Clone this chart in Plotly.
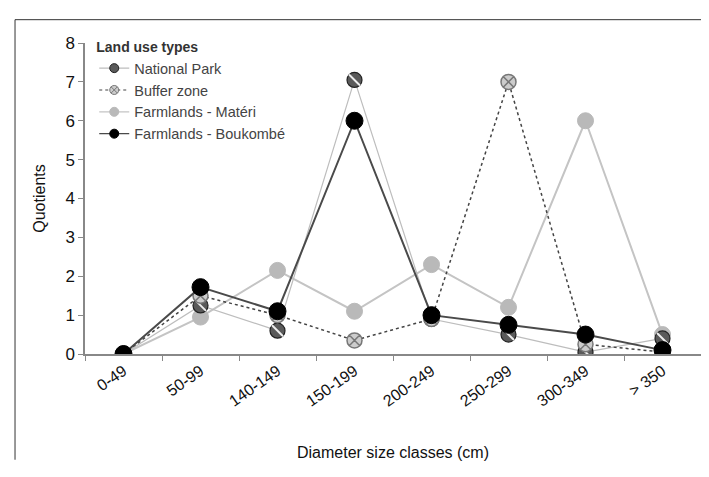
import plotly.graph_objects as go

categories = ["0-49", "50-99", "140-149", "150-199", "200-249", "250-299", "300-349", "> 350"]
national_park = [0, 1.25, 0.6, 7.05, 0.9, 0.5, 0.05, 0.4]
buffer_zone = [0, 1.5, 1.0, 0.35, 0.9, 7.0, 0.25, 0.05]
farm_materi = [0, 0.95, 2.15, 1.1, 2.3, 1.2, 6.0, 0.5]
farm_boukombe = [0, 1.72, 1.1, 6.0, 1.0, 0.75, 0.5, 0.1]
y_ticks = [0, 1, 2, 3, 4, 5, 6, 7, 8]

series = [
    dict(name="National Park", y=national_park, rank=1,
         line=dict(color="#bdbdbd", width=1.2),
         mcolor="#5a5a5a", mline=dict(color="#222222", width=1.2), symbol="circle", size=15),
    dict(name="Buffer zone", y=buffer_zone, rank=2,
         line=dict(color="#444444", width=1.5, dash="dot"),
         mcolor="#cccccc", mline=dict(color="#777777", width=1.5), symbol="circle-x", size=15),
    dict(name="Farmlands - Matéri", y=farm_materi, rank=3,
         line=dict(color="#c4c4c4", width=2),
         mcolor="#b9b9b9", mline=dict(color="#b9b9b9", width=1), symbol="circle", size=16),
    dict(name="Farmlands - Boukombé", y=farm_boukombe, rank=4,
         line=dict(color="#4a4a4a", width=2),
         mcolor="#000000", mline=dict(color="#000000", width=1), symbol="circle", size=17),
]
draw_order = [2, 0, 1, 3]

fig = go.Figure()

for i in draw_order:
    s = series[i]
    fig.add_trace(go.Scatter(
        x=categories, y=s["y"], name=s["name"], mode="lines+markers", showlegend=False,
        line=s["line"],
        marker=dict(symbol=s["symbol"], size=s["size"], color=s["mcolor"], line=s["mline"]),
    ))
    if i == 0:
        # stripes overlay for the hatched marker look
        fig.add_trace(go.Scatter(
            x=categories, y=s["y"], mode="markers", showlegend=False, hoverinfo="skip",
            marker=dict(symbol="line-nw", size=11, color="#eeeeee", line=dict(color="#eeeeee", width=2)),
        ))

# legend entries (small symbols as in the reference)
for s in series:
    lline = dict(s["line"])
    lline["width"] = 1.2
    fig.add_trace(go.Scatter(
        x=[None], y=[None], name=s["name"], mode="lines+markers", legendrank=s["rank"],
        line=lline,
        marker=dict(symbol=s["symbol"], size=9, color=s["mcolor"],
                    line=dict(color=s["mline"]["color"], width=1)),
    ))

fig.update_layout(
    width=709, height=477,
    margin=dict(l=77, r=16, t=35, b=131, autoexpand=False),
    paper_bgcolor="white", plot_bgcolor="white",
    font=dict(family="Liberation Sans, Arial, sans-serif", color="#222222", size=14),
    showlegend=True,
    legend=dict(
        x=0.015, y=1.0 - 26 / 477, xref="paper", yref="container", xanchor="left", yanchor="top",
        title=dict(text="<b>Land use types</b>", font=dict(size=14, color="#333333")),
        font=dict(size=14.5, color="#444444"),
        bgcolor="rgba(0,0,0,0)", tracegroupgap=0, itemwidth=30,
    ),
    xaxis=dict(
        range=[-0.5, 7.5], showgrid=False, zeroline=False,
        showline=True, linecolor="#888888", linewidth=1.5,
        ticks="outside", ticklen=5, tickcolor="#888888",
        tickangle=-35, tickson="boundaries",
        tickfont=dict(size=16, color="#111111"),
        title=dict(text="Diameter size classes (cm)", font=dict(size=16, color="#111111"), standoff=38),
    ),
    yaxis=dict(
        range=[0, 8], tickvals=y_ticks, showgrid=False, zeroline=False,
        showline=True, linecolor="#888888", linewidth=1.5,
        ticks="outside", ticklen=5, tickcolor="#888888",
        tickfont=dict(size=17, color="#111111"),
        title=dict(text="Quotients", font=dict(size=16, color="#111111"), standoff=16),
    ),
    shapes=[
        dict(type="line", xref="paper", yref="paper", x0=-0.1136, x1=1.03, y0=1.075, y1=1.075,
             line=dict(color="#333333", width=1)),
        dict(type="line", xref="paper", yref="paper", x0=-0.1136, x1=-0.1136, y0=1.075, y1=-0.34,
             line=dict(color="#333333", width=1)),
    ],
)

fig.write_html("out.html")
